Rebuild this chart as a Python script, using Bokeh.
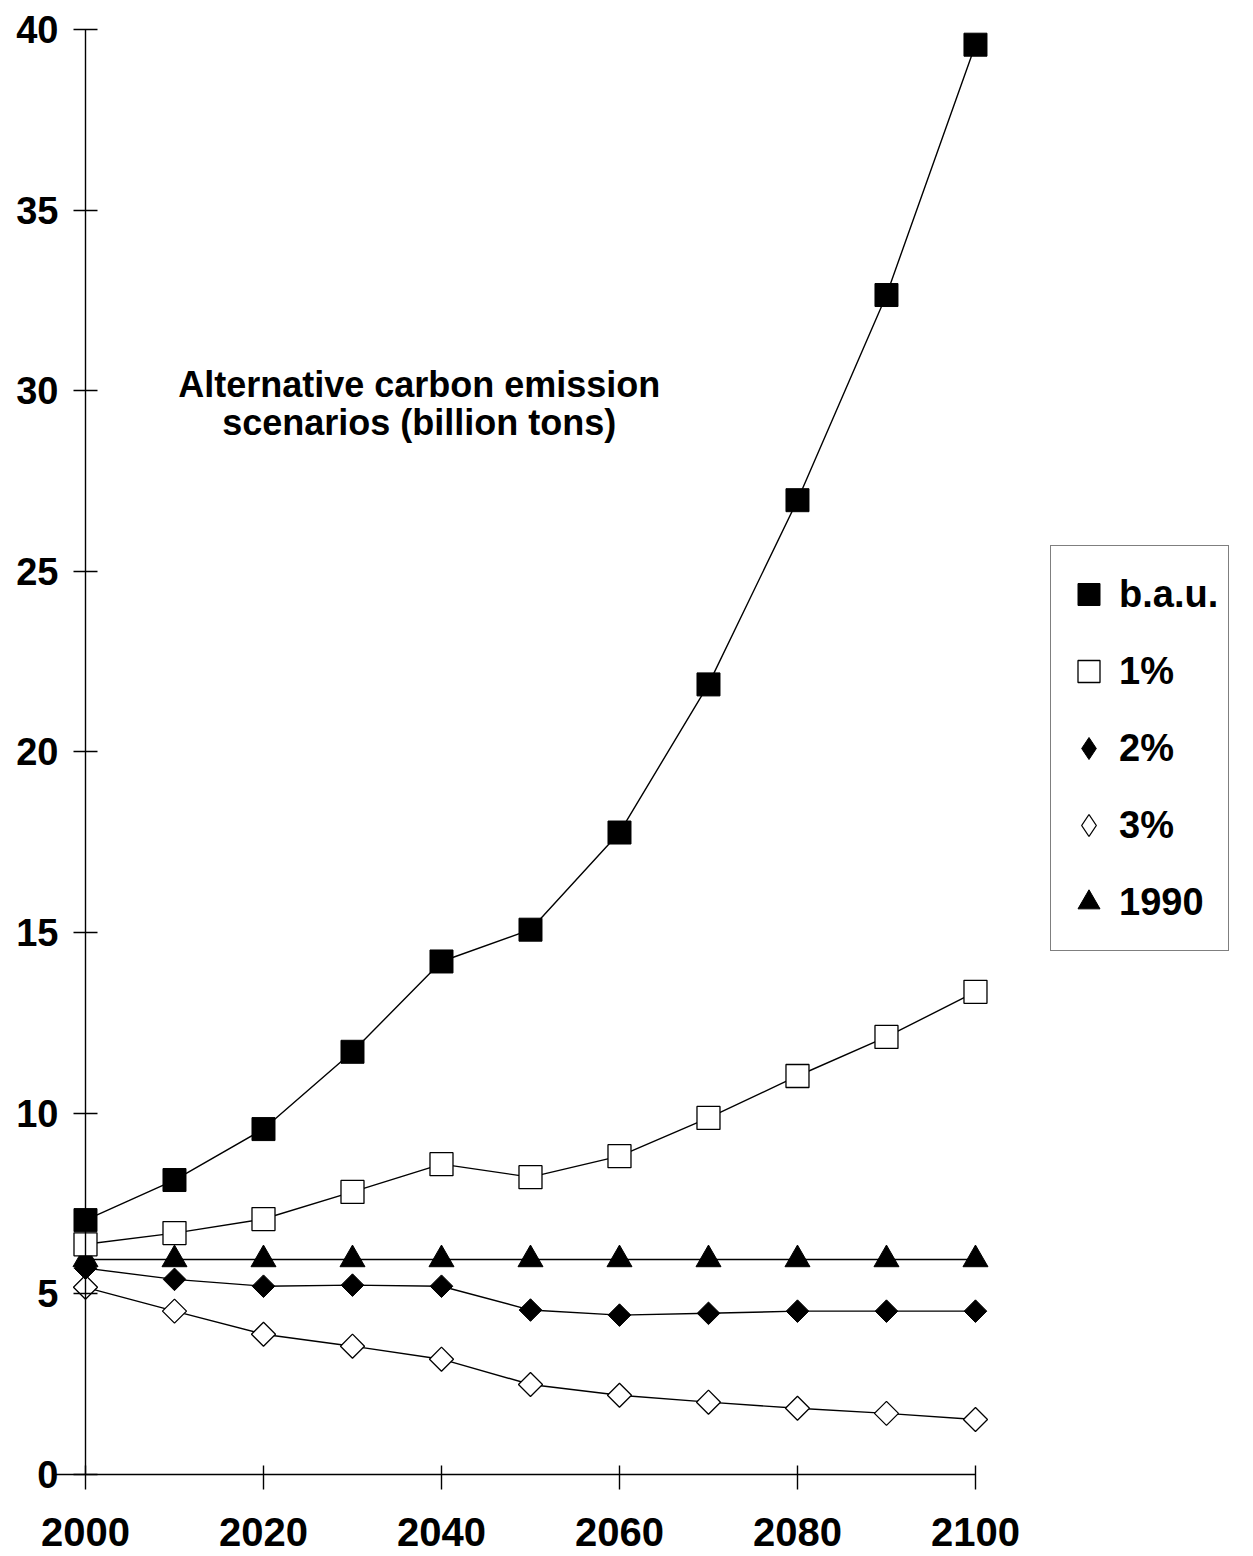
from bokeh.plotting import figure
from bokeh.models import Range1d, Legend, LegendItem, Label, FixedTicker
from bokeh.embed import file_html
from bokeh.resources import INLINE

years = [2000, 2010, 2020, 2030, 2040, 2050, 2060, 2070, 2080, 2090, 2100]
bau = [7.04, 8.15, 9.56, 11.70, 14.20, 15.08, 17.77, 21.87, 26.97, 32.65, 39.58]
pct1 = [6.37, 6.68, 7.07, 7.82, 8.59, 8.23, 8.81, 9.87, 11.03, 12.11, 13.36]
pct2 = [5.71, 5.40, 5.21, 5.24, 5.21, 4.55, 4.41, 4.46, 4.52, 4.52, 4.52]
pct3 = [5.18, 4.52, 3.88, 3.55, 3.19, 2.49, 2.19, 2.00, 1.83, 1.69, 1.52]
lvl1990 = [5.95, 5.95, 5.95, 5.95, 5.95, 5.95, 5.95, 5.95, 5.95, 5.95, 5.95]
x_ticks = [2000, 2020, 2040, 2060, 2080, 2100]
y_ticks = [0, 5, 10, 15, 20, 25, 30, 35, 40]
title_lines = ["Alternative carbon emission", "scenarios (billion tons)"]
names = ["b.a.u.", "1%", "2%", "3%", "1990"]

FONT = "Liberation Sans"

p = figure(frame_width=1241, frame_height=1552,
           x_range=Range1d(1990.899, 2130.34), y_range=Range1d(-2.217, 40.748),
           output_backend="svg", toolbar_location=None,
           min_border_left=4, min_border_top=2, min_border_right=4,
           min_border_bottom=0)
p.grid.visible = False
p.outline_line_color = None
p.background_fill_color = "white"

for ax in (p.xaxis, p.yaxis):
    ax.axis_line_color = "black"
    ax.axis_line_width = 1.4
    ax.major_tick_line_color = "black"
    ax.major_tick_line_width = 1.4
    ax.minor_tick_line_color = None
    ax.major_label_text_font = FONT
    ax.major_label_text_font_style = "bold"
    ax.major_label_text_color = "black"

p.xaxis.ticker = FixedTicker(ticks=x_ticks)
p.yaxis.ticker = FixedTicker(ticks=y_ticks)
p.xaxis.bounds = (1996.3, 2100)
p.yaxis.bounds = (0, 40)
p.xaxis.major_tick_in = 9
p.xaxis.major_tick_out = 15
p.yaxis.major_tick_in = 12
p.yaxis.major_tick_out = 12
p.xaxis.major_label_text_font_size = "40px"
p.yaxis.major_label_text_font_size = "38px"
p.xaxis.major_label_standoff = 29
p.yaxis.major_label_standoff = 15
p.yaxis.fixed_location = 2000
p.xaxis.fixed_location = 0

lw = 1.4
p.line(years, bau, line_color="black", line_width=lw)
p.line(years, pct1, line_color="black", line_width=lw)
p.line(years, pct2, line_color="black", line_width=lw)
p.line(years, pct3, line_color="black", line_width=lw)
p.line(years, lvl1990, line_color="black", line_width=lw)

# legend-only diamond renderers (size 0 in the plot, hidden under the real
# markers; the legend ignores marker rotation so it needs the diamond shape)
leg_2 = p.scatter(years, pct2, marker="diamond", size=0,
                  fill_color="black", line_color="black")
leg_3 = p.scatter(years, pct3, marker="diamond", size=0,
                  fill_color="white", line_color="black", line_width=1.3)

r_90 = p.scatter(years, lvl1990, marker="triangle", size=25,
                 fill_color="black", line_color="black")
p.scatter(years, pct3, marker="square", angle=0.785398, size=17,
          fill_color="white", line_color="black", line_width=1.3)
p.scatter(years, pct2, marker="square", angle=0.785398, size=16,
          fill_color="black", line_color="black")
r_1 = p.scatter(years, pct1, marker="square", size=23,
                fill_color="white", line_color="black", line_width=1.3)
r_bau = p.scatter(years, bau, marker="square", size=23,
                  fill_color="black", line_color="black")

p.add_layout(Label(x=2037.5, y=30.18, text=title_lines[0], text_align="center",
                   text_baseline="alphabetic", text_font=FONT,
                   text_font_style="bold", text_font_size="36px",
                   text_color="black"))
p.add_layout(Label(x=2037.5, y=29.13, text=title_lines[1], text_align="center",
                   text_baseline="alphabetic", text_font=FONT,
                   text_font_style="bold", text_font_size="36px",
                   text_color="black"))

legend = Legend(items=[
    LegendItem(label=names[0], renderers=[r_bau]),
    LegendItem(label=names[1], renderers=[r_1]),
    LegendItem(label=names[2], renderers=[leg_2]),
    LegendItem(label=names[3], renderers=[leg_3]),
    LegendItem(label=names[4], renderers=[r_90]),
], location=(1046, 603))
legend.label_text_font = FONT
legend.label_text_font_style = "bold"
legend.label_text_font_size = "38px"
legend.label_text_color = "black"
legend.glyph_width = 55
legend.glyph_height = 76
legend.label_height = 76
legend.spacing = 1
legend.padding = 10
legend.margin = 0
legend.label_standoff = 3
legend.border_line_color = "black"
legend.border_line_width = 1.2
legend.background_fill_color = "white"
legend.background_fill_alpha = 1.0
p.add_layout(legend, "center")

open("out.html", "w").write(file_html(p, INLINE))
